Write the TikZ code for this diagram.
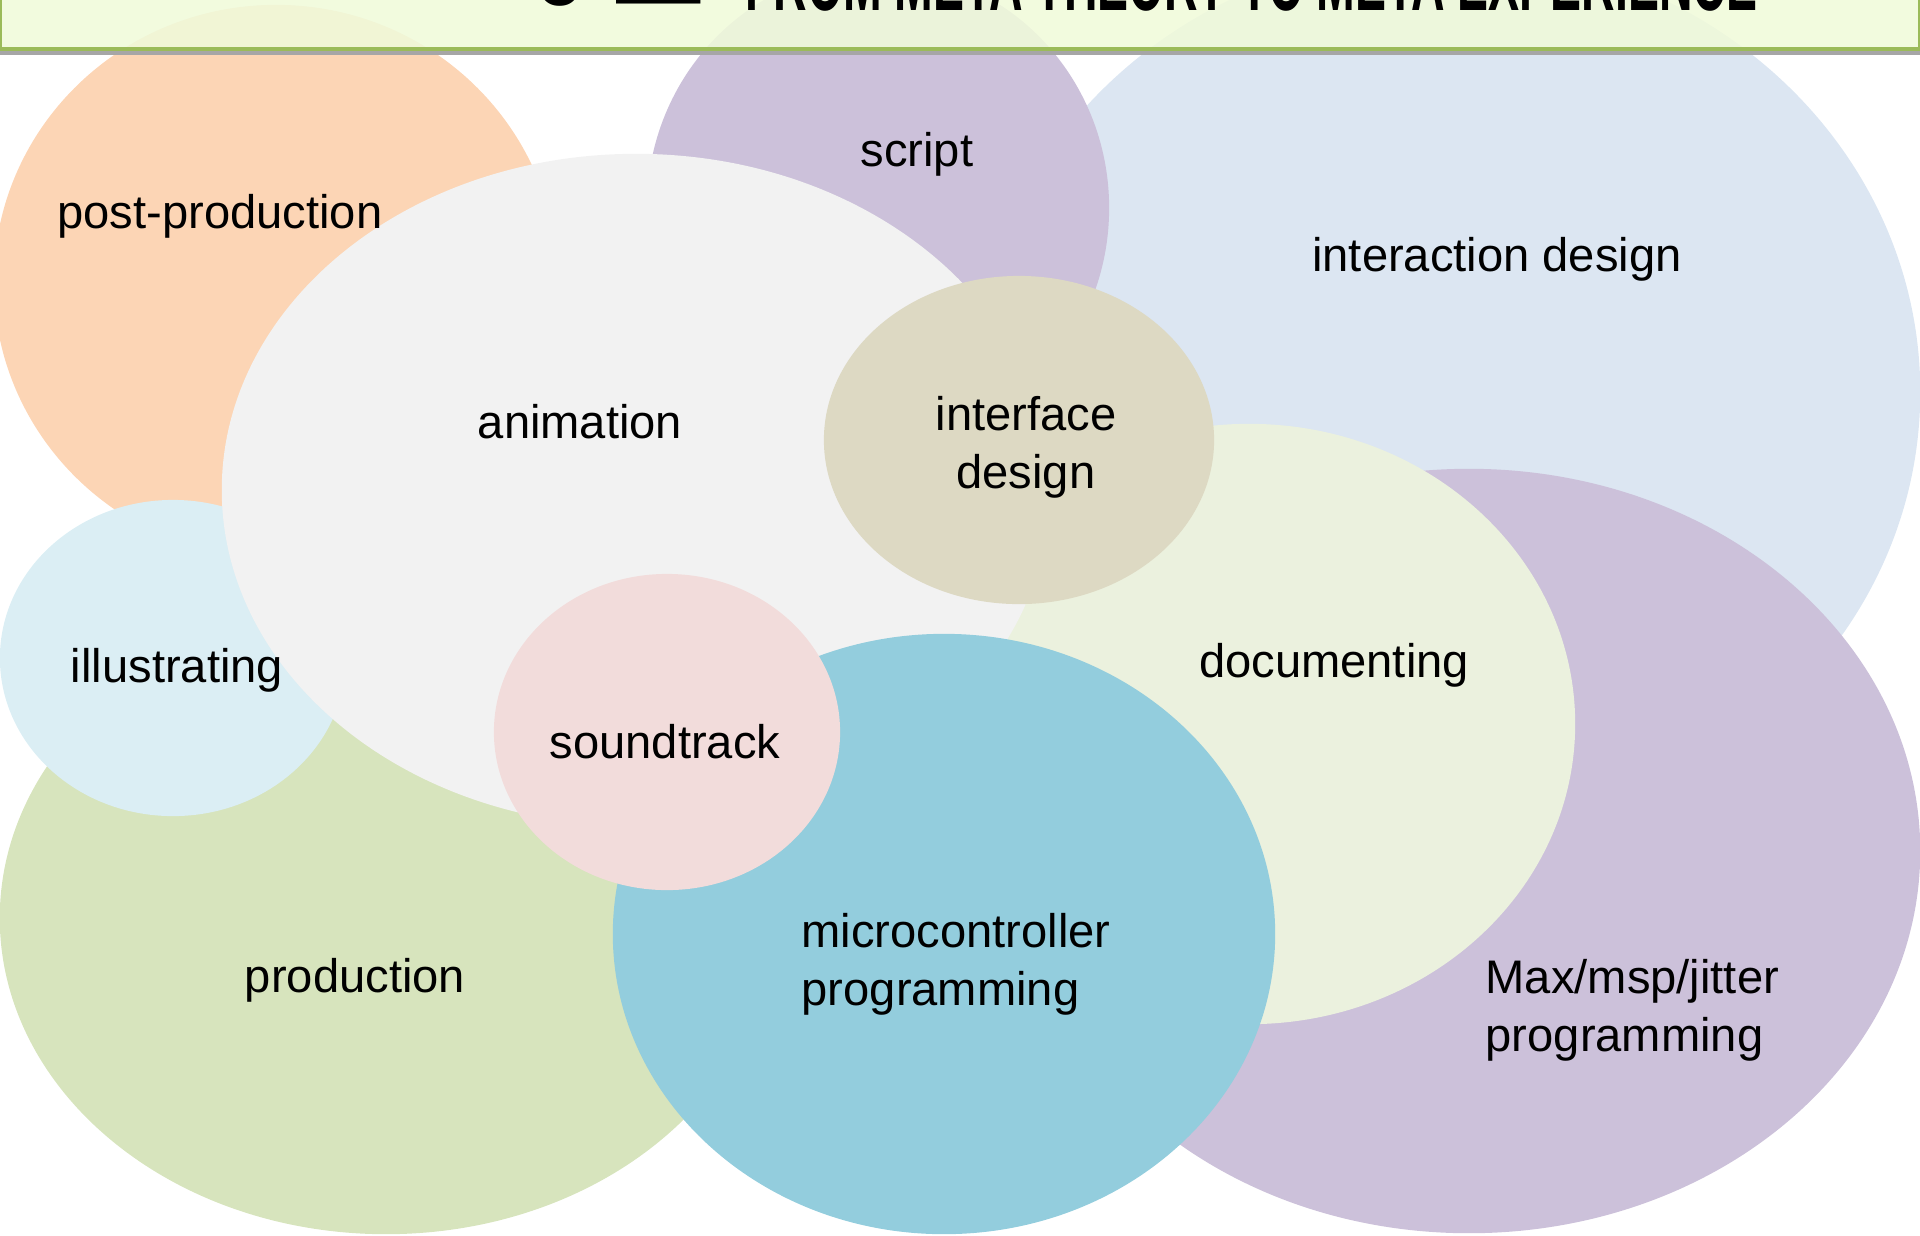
\documentclass[tikz,border=0pt]{standalone}
\usepackage{fontspec}
\setmainfont{Liberation Sans}
\definecolor{peach}{HTML}{FCD5B5}
\definecolor{lilac}{HTML}{CCC1DA}
\definecolor{paleblue}{HTML}{DCE6F2}
\definecolor{lightgray}{HTML}{F2F2F2}
\definecolor{tan}{HTML}{DDD9C3}
\definecolor{palegreen}{HTML}{EBF1DE}
\definecolor{lightcyan}{HTML}{DBEEF4}
\definecolor{sage}{HTML}{D7E4BD}
\definecolor{pink}{HTML}{F2DCDB}
\definecolor{teal}{HTML}{93CDDD}
\definecolor{hdrfill}{HTML}{F0FADA}
\definecolor{hdrline}{HTML}{9BBB59}

\begin{document}
\begin{tikzpicture}[x=0.01cm,y=0.01cm,
  lbl/.style={font=\fontsize{13.4pt}{16.6pt}\selectfont,inner sep=0pt},
  hdr/.style={font=\fontsize{24pt}{28pt}\selectfont\bfseries,inner sep=0pt,anchor=base west}]
\useasboundingbox (0,0) rectangle (1920,-1235);
\clip (0,0) rectangle (1920,-1235);
% blobs, back to front
\fill[peach] (276,-282) ellipse [x radius=2.82cm, y radius=2.77cm];
\fill[paleblue] (1447,-392) ellipse [x radius=4.73cm, y radius=4.41cm];
\fill[lilac] (878,-208) ellipse [x radius=2.31cm, y radius=2.39cm];
\fill[sage] (386,-918) ellipse [x radius=3.86cm, y radius=3.16cm];
\fill[lightcyan] (173,-658) ellipse [x radius=1.73cm, y radius=1.58cm];
\fill[lilac] (1469,-851) ellipse [x radius=4.51cm, y radius=3.82cm];
\fill[palegreen] (1249,-724) ellipse [x radius=3.26cm, y radius=3.00cm];
\fill[lightgray] (636,-490) ellipse [x radius=4.14cm, y radius=3.36cm];
\fill[tan] (1019,-440) ellipse [x radius=1.95cm, y radius=1.64cm];
\fill[teal] (944,-934) ellipse [x radius=3.31cm, y radius=3.00cm];
\fill[pink] (667,-732) ellipse [x radius=1.73cm, y radius=1.58cm];
% labels
\draw (220,-216) node[lbl](postprod) {post-production};
\draw (917,-154) node[lbl](script) {script};
\draw (1497,-259) node[lbl](interaction) {interaction design};
\draw (580,-422) node[lbl](animation) {animation};
\draw (1026,-447) node[lbl,align=center](interface) {interface\\ design};
\draw (1334,-665) node[lbl](documenting) {documenting};
\draw (1485,-1010) node[lbl,align=left,anchor=west](maxmsp) {Max/msp/jitter\\programming};
\draw (177,-670) node[lbl](illustrating) {illustrating};
\draw (355,-980) node[lbl](production) {production};
\draw (665,-742) node[lbl](soundtrack) {soundtrack};
\draw (801,-964) node[lbl,align=left,anchor=west](micro) {microcontroller\\programming};
% header strip
\fill[hdrfill,fill opacity=0.88] (0,0) rectangle (1920,-50);
\draw[hdrline,line width=0.6pt] (1,0) -- (1,-50);
\draw[hdrline,line width=0.6pt] (1919,0) -- (1919,-50);
\draw[hdrline,line width=1.6pt] (0,-50) -- (1920,-50);
\draw[gray!70,line width=1.2pt] (0,-53) -- (1920,-53);
\draw (535,-5) node[hdr](hnum) {6};
\draw (616,-22) node[hdr](hdash) {—};
\draw (745,-10) node[hdr,xscale=0.55](htitle) {FROM META THEORY TO META EXPERIENCE};
\end{tikzpicture}
\end{document}
